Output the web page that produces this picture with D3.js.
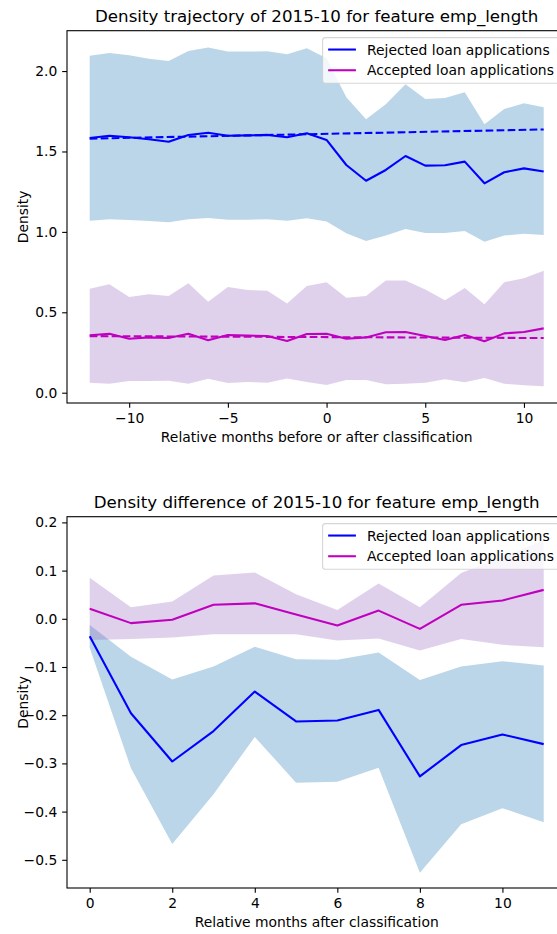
<!DOCTYPE html>
<html>
<head>
<meta charset="utf-8">
<script src="https://cdn.jsdelivr.net/npm/d3@7/dist/d3.min.js"></script>
<style>
  html, body { margin: 0; padding: 0; background: #fff; overflow: hidden; }
  svg text { font-family: "DejaVu Sans", sans-serif; fill: #000; }
</style>
</head>
<body>
<svg id="chart" width="557" height="934"></svg>
<script>
// ---- Trajectory panel data (months -12 .. 11) ----
const trajMonths = [-12, -11, -10, -9, -8, -7, -6, -5, -4, -3, -2, -1, 0, 1, 2, 3, 4, 5, 6, 7, 8, 9, 10, 11];
const trajRejected = [1.584, 1.598, 1.588, 1.576, 1.561, 1.603, 1.617, 1.598, 1.600, 1.603, 1.588, 1.613,
                      1.572, 1.416, 1.318, 1.385, 1.472, 1.412, 1.414, 1.437, 1.302, 1.371, 1.395, 1.375];
const trajRejectedUpper = [2.096, 2.113, 2.098, 2.077, 2.063, 2.125, 2.146, 2.121, 2.121, 2.123, 2.104, 2.142,
                           2.080, 1.837, 1.700, 1.794, 1.918, 1.826, 1.833, 1.868, 1.669, 1.764, 1.800, 1.775];
const trajRejectedLower = [1.070, 1.078, 1.074, 1.068, 1.060, 1.078, 1.086, 1.076, 1.076, 1.078, 1.070, 1.085,
                           1.064, 0.991, 0.943, 0.977, 1.018, 0.993, 0.993, 1.006, 0.939, 0.977, 0.989, 0.981];
const trajAccepted = [0.357, 0.367, 0.336, 0.344, 0.340, 0.367, 0.326, 0.359, 0.355, 0.353, 0.322, 0.365,
                      0.367, 0.336, 0.344, 0.376, 0.378, 0.353, 0.328, 0.359, 0.320, 0.369, 0.378, 0.400];
const trajAcceptedUpper = [0.647, 0.674, 0.595, 0.612, 0.601, 0.680, 0.566, 0.657, 0.639, 0.634, 0.554, 0.664,
                           0.687, 0.591, 0.601, 0.697, 0.697, 0.641, 0.575, 0.651, 0.550, 0.687, 0.712, 0.759];
const trajAcceptedLower = [0.062, 0.056, 0.073, 0.073, 0.075, 0.056, 0.087, 0.060, 0.067, 0.062, 0.089, 0.067,
                           0.048, 0.079, 0.079, 0.052, 0.056, 0.062, 0.083, 0.065, 0.091, 0.056, 0.046, 0.040];
// Linear trend lines: values at the first and last month
const trendMonths = [-12, 11];
const trendRejected = [1.580, 1.637];
const trendAccepted = [0.352, 0.340];

// ---- Difference panel data (months 0 .. 11) ----
const diffMonths = [0, 1, 2, 3, 4, 5, 6, 7, 8, 9, 10, 11];
const diffRejected = [-0.036, -0.196, -0.296, -0.233, -0.151, -0.213, -0.211, -0.189, -0.327, -0.262, -0.240, -0.260];
const diffRejectedUpper = [-0.013, -0.079, -0.126, -0.099, -0.058, -0.084, -0.085, -0.070, -0.127, -0.099, -0.088, -0.097];
const diffRejectedLower = [-0.060, -0.310, -0.467, -0.364, -0.245, -0.340, -0.338, -0.309, -0.527, -0.426, -0.393, -0.422];
const diffAccepted = [0.021, -0.009, -0.002, 0.029, 0.032, 0.009, -0.014, 0.017, -0.021, 0.029, 0.038, 0.060];
const diffAcceptedUpper = [0.085, 0.024, 0.036, 0.090, 0.096, 0.051, 0.018, 0.073, 0.024, 0.095, 0.128, 0.163];
const diffAcceptedLower = [-0.044, -0.042, -0.039, -0.032, -0.032, -0.032, -0.045, -0.041, -0.066, -0.042, -0.054, -0.059];

// ---- Tick values ----
const trajXTicks = [-10, -5, 0, 5, 10];
const trajYTicks = [0.0, 0.5, 1.0, 1.5, 2.0];
const diffXTicks = [0, 2, 4, 6, 8, 10];
const diffYTicks = [0.2, 0.1, 0.0, -0.1, -0.2, -0.3, -0.4, -0.5];

const seriesNames = ["Rejected loan applications", "Accepted loan applications"];

// ---- Styling ----
const FS = 13.89;       // tick, label and legend size
const TITLE_FS = 16.67; // title size
const LW = 2.08;        // line width
const TICK = 4.86;      // tick length / pad
const lineColors = ["#0000ff", "#bf00bf"];
const bandColors = ["#1f77b4", "#9467bd"];
const svg = d3.select("#chart");

const minus = s => s.replace("-", "\u2212");

function panel(cfg) {
  const { left, right, top, bottom } = cfg.box;
  const x = d3.scaleLinear().domain(cfg.xDomain).range([left, right]);
  const y = d3.scaleLinear().domain(cfg.yDomain).range([bottom, top]);
  const g = svg.append("g");

  const area = (up, lo) => d3.area()
    .x((d, i) => x(cfg.months[i]))
    .y0((d, i) => y(lo[i]))
    .y1((d, i) => y(up[i]));
  const line = vals => d3.line().x((d, i) => x(cfg.months[i])).y((d, i) => y(vals[i]));

  // confidence bands
  cfg.series.forEach((s, k) => {
    g.append("path").datum(s.values)
      .attr("d", area(s.upper, s.lower))
      .attr("fill", bandColors[k]).attr("fill-opacity", 0.3);
  });
  // mean lines
  cfg.series.forEach((s, k) => {
    g.append("path").datum(s.values)
      .attr("d", line(s.values))
      .attr("fill", "none").attr("stroke", lineColors[k]).attr("stroke-width", LW)
      .attr("stroke-linejoin", "round");
  });
  // trend lines
  (cfg.trends || []).forEach((t, k) => {
    g.append("path").datum(t)
      .attr("d", d3.line().x((d, i) => x(trendMonths[i])).y(d => y(d))(t))
      .attr("fill", "none").attr("stroke", lineColors[k]).attr("stroke-width", LW)
      .attr("stroke-dasharray", "7.7,3.3");
  });

  // axes
  const xAxis = g.append("g").attr("transform", `translate(0,${bottom})`)
    .call(d3.axisBottom(x).tickValues(cfg.xTicks).tickFormat(d => minus(d3.format("d")(d)))
      .tickSize(TICK).tickPadding(TICK));
  const yAxis = g.append("g").attr("transform", `translate(${left},0)`)
    .call(d3.axisLeft(y).tickValues(cfg.yTicks).tickFormat(d => minus(d3.format(".1f")(d)))
      .tickSize(TICK).tickPadding(TICK));
  [xAxis, yAxis].forEach(a => {
    a.select(".domain").remove();
    a.selectAll(".tick line").attr("stroke", "#000").attr("stroke-width", 1.1);
    a.selectAll(".tick text").style("font-size", FS + "px").attr("fill", "#000");
  });
  xAxis.selectAll(".tick text").attr("dy", "0.71em");

  // spines
  g.append("rect").attr("x", left).attr("y", top)
    .attr("width", right - left).attr("height", bottom - top)
    .attr("fill", "none").attr("stroke", "#000").attr("stroke-width", 1.1);

  // title and axis labels
  g.append("text").attr("x", (left + right) / 2).attr("y", top - 8.3)
    .attr("text-anchor", "middle").style("font-size", TITLE_FS + "px").text(cfg.title);
  g.append("text").attr("x", (left + right) / 2).attr("y", bottom + 39)
    .attr("text-anchor", "middle").style("font-size", FS + "px").text(cfg.xLabel);
  g.append("text").attr("transform", `translate(28,${(top + bottom) / 2}) rotate(-90)`)
    .attr("text-anchor", "middle").style("font-size", FS + "px").text("Density");

  // legend (upper right)
  const pad = 0.4 * FS, handle = 2 * FS, textPad = 0.8 * FS;
  const lgRight = right - 0.5 * FS, lgTop = top + 0.5 * FS, lgH = 45.6;
  const lg = g.append("g");
  const box = lg.append("rect");
  const labels = seriesNames.map((name, k) => {
    const cy = lgTop + 11.9 + k * 20.7;
    const ln = lg.append("line").attr("y1", cy).attr("y2", cy)
      .attr("stroke", lineColors[k]).attr("stroke-width", LW);
    const tx = lg.append("text").attr("y", cy + 5)
      .style("font-size", FS + "px").text(name);
    return { ln, tx };
  });
  const textW = d3.max(labels, l => l.tx.node().getComputedTextLength());
  const lgW = pad * 2 + handle + textPad + textW;
  const x0 = lgRight - lgW;
  box.attr("x", x0).attr("y", lgTop)
    .attr("width", lgW).attr("height", lgH).attr("rx", 2.8)
    .attr("fill", "#fff").attr("fill-opacity", 0.8)
    .attr("stroke", "#cccccc").attr("stroke-opacity", 0.8).attr("stroke-width", 1.1);
  labels.forEach(l => {
    l.ln.attr("x1", x0 + pad).attr("x2", x0 + pad + handle);
    l.tx.attr("x", x0 + pad + handle + textPad);
  });
}

panel({
  box: { left: 67, right: 566.4, top: 30.7, bottom: 403 },
  xDomain: [-13.15, 12.15], yDomain: [-0.064, 2.251],
  months: trajMonths,
  series: [
    { values: trajRejected, upper: trajRejectedUpper, lower: trajRejectedLower },
    { values: trajAccepted, upper: trajAcceptedUpper, lower: trajAcceptedLower }
  ],
  trends: [trendRejected, trendAccepted],
  xTicks: trajXTicks, yTicks: trajYTicks,
  title: "Density trajectory of 2015-10 for feature emp_length",
  xLabel: "Relative months before or after classification"
});

panel({
  box: { left: 67, right: 566.4, top: 516.7, bottom: 888 },
  xDomain: [-0.55, 11.55], yDomain: [-0.5585, 0.2118],
  months: diffMonths,
  series: [
    { values: diffRejected, upper: diffRejectedUpper, lower: diffRejectedLower },
    { values: diffAccepted, upper: diffAcceptedUpper, lower: diffAcceptedLower }
  ],
  xTicks: diffXTicks, yTicks: diffYTicks,
  title: "Density difference of 2015-10 for feature emp_length",
  xLabel: "Relative months after classification"
});
</script>
</body>
</html>
